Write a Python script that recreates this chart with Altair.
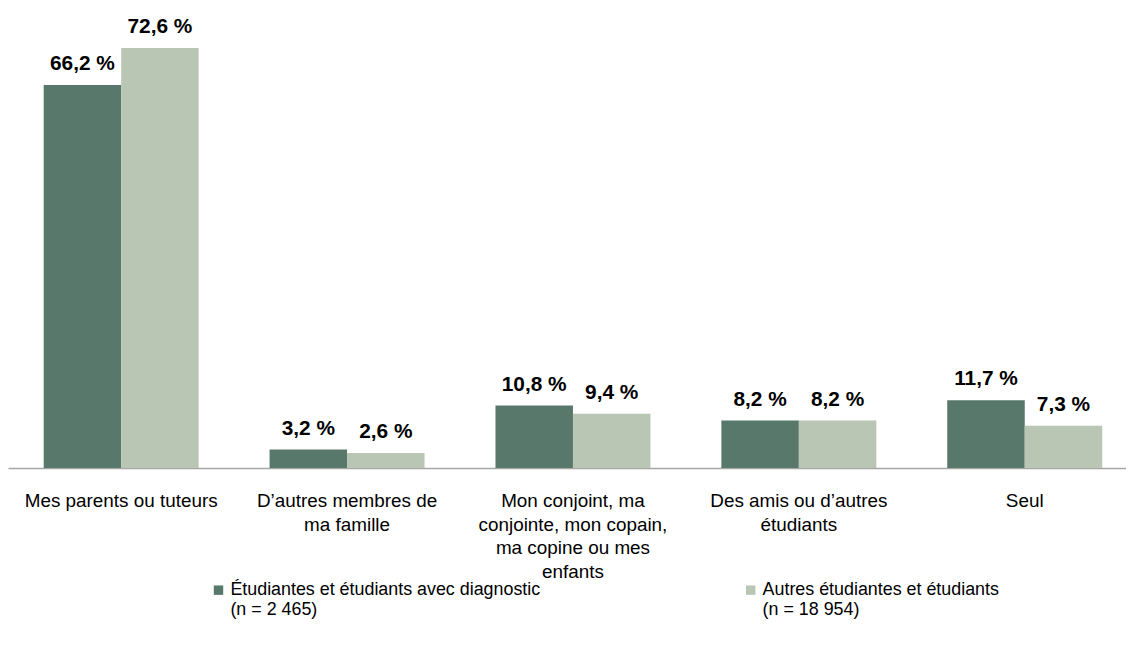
import altair as alt
import pandas as pd

categories = [
    "Mes parents ou tuteurs",
    "D\u2019autres membres de\nma famille",
    "Mon conjoint, ma\nconjointe, mon copain,\nma copine ou mes\nenfants",
    "Des amis ou d\u2019autres\n\u00e9tudiants",
    "Seul",
]
series = [
    "\u00c9tudiantes et \u00e9tudiants avec diagnostic\n\u2002(n = 2 465)",
    "Autres \u00e9tudiantes et \u00e9tudiants\n\u2002(n = 18 954)",
]
values_diag = [66.2, 3.2, 10.8, 8.2, 11.7]
values_autres = [72.6, 2.6, 9.4, 8.2, 7.3]
colors = ["#57786B", "#B9C6B4"]

rows = []
for c, v1, v2 in zip(categories, values_diag, values_autres):
    for s, v in zip(series, [v1, v2]):
        rows.append({"cat": c, "series": s, "value": v,
                     "label": f"{v:.1f}".replace(".", ",") + " %"})
df = pd.DataFrame(rows)

FONT = "Liberation Sans, Arial"

x = alt.X("cat:N", sort=categories, title=None,
          scale=alt.Scale(range=[0, 1138], paddingInner=0.314, paddingOuter=0.158),
          axis=alt.Axis(labelAngle=0, ticks=False, domainColor="#A6A6A6", domainWidth=1.5,
                        labelFont=FONT, labelFontSize=19, labelColor="#000000",
                        labelLineHeight=23.7, labelPadding=24, labelLimit=400,
                        labelExpr="split(datum.label, '\\n')"))
xo = alt.XOffset("series:N", sort=series, scale=alt.Scale(paddingInner=0, paddingOuter=0))
y = alt.Y("value:Q", scale=alt.Scale(domain=[0, 79.1], nice=False), axis=None)

base = alt.Chart(df).encode(x=x, xOffset=xo, y=y)

bars = base.mark_bar().encode(
    color=alt.Color("series:N", sort=series, scale=alt.Scale(domain=series, range=colors),
                    legend=alt.Legend(title=None, orient="none", direction="horizontal",
                                      legendX=203, legendY=575,
                                      symbolType="square", symbolSize=90, symbolStrokeWidth=0,
                                      labelOffset=3,
                                      labelFont=FONT, labelFontSize=18, labelColor="#000000",
                                      labelLimit=500, columnPadding=202,
                                      labelExpr="split(datum.label, '\\n')"))
)
text = base.mark_text(baseline="bottom", dy=-11, font=FONT, fontWeight="bold",
                      fontSize=21, color="#000000").encode(text="label:N")

chart = (bars + text).properties(
    width=1126, height=461,
    autosize=alt.AutoSizeParams(type="none"),
    padding={"left": 0, "top": 0, "right": 0, "bottom": 192},
).configure_view(stroke=None)

chart.save("out.html", embed_options={"renderer": "svg", "actions": False})
